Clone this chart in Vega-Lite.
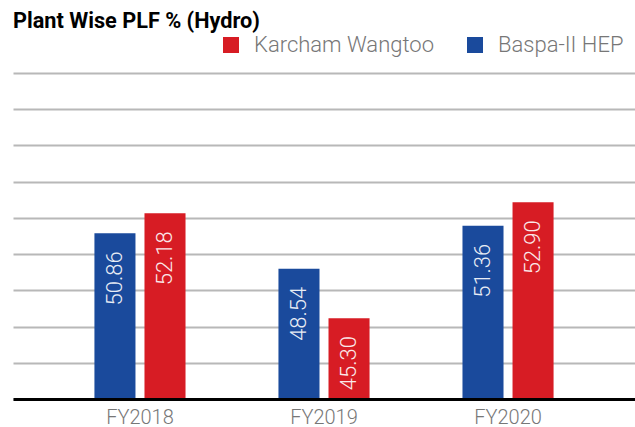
{
  "$schema": "https://vega.github.io/schema/vega-lite/v6.json",
  "autosize": "none",
  "width": 622,
  "height": 326,
  "padding": {"left": 13, "top": 73, "right": 0, "bottom": 28},
  "background": "white",
  "config": {"view": {"stroke": null}},
  "title": {
    "text": "Plant Wise PLF % (Hydro)",
    "anchor": "start",
    "font": "Roboto",
    "fontSize": 21.7,
    "fontWeight": "bold",
    "color": "#000000",
    "baseline": "alphabetic",
    "offset": -16
  },
  "data": {
    "values": [
      {"year": "FY2018", "plant": "Baspa-II HEP", "plf": 50.86},
      {"year": "FY2018", "plant": "Karcham Wangtoo", "plf": 52.18},
      {"year": "FY2019", "plant": "Baspa-II HEP", "plf": 48.54},
      {"year": "FY2019", "plant": "Karcham Wangtoo", "plf": 45.30},
      {"year": "FY2020", "plant": "Baspa-II HEP", "plf": 51.36},
      {"year": "FY2020", "plant": "Karcham Wangtoo", "plf": 52.90}
    ]
  },
  "encoding": {
    "x": {
      "field": "year",
      "type": "nominal",
      "scale": {"paddingInner": 0.505, "paddingOuter": 0.4425},
      "axis": {
        "title": null,
        "labelAngle": 0,
        "labelFont": "Roboto",
        "labelFontSize": 20,
        "labelFontWeight": 300,
        "labelColor": "#777777",
        "labelPadding": 8,
        "ticks": false,
        "domainColor": "#000000",
        "domainWidth": 3,
        "zindex": 1
      }
    },
    "xOffset": {
      "field": "plant",
      "type": "nominal",
      "scale": {"domain": ["Baspa-II HEP", "Karcham Wangtoo"], "paddingInner": 0.18, "paddingOuter": 0}
    },
    "y": {
      "field": "plf",
      "type": "quantitative",
      "scale": {"domain": [40, 61.375], "nice": false, "zero": false},
      "axis": {
        "title": null,
        "labels": false,
        "ticks": false,
        "domain": false,
        "values": [40, 42.375, 44.75, 47.125, 49.5, 51.875, 54.25, 56.625, 59, 61.375],
        "gridColor": "#b8b8b8",
        "gridWidth": 2
      }
    }
  },
  "layer": [
    {
      "mark": {"type": "bar"},
      "encoding": {
        "y2": {"datum": 40},
        "color": {
          "field": "plant",
          "type": "nominal",
          "scale": {"domain": ["Karcham Wangtoo", "Baspa-II HEP"], "range": ["#d71c24", "#1a4a9c"]},
          "legend": {
            "title": null,
            "orient": "none",
            "legendX": 207,
            "legendY": -39,
            "direction": "horizontal",
            "symbolType": "square",
            "symbolSize": 256,
            "symbolStrokeWidth": 0,
            "labelFont": "Roboto",
            "labelFontSize": 22,
            "labelFontWeight": 300,
            "labelColor": "#777777",
            "labelOffset": 12,
            "columnPadding": 30,
            "labelLimit": 300
          }
        }
      }
    },
    {
      "mark": {
        "type": "text",
        "angle": 270,
        "align": "right",
        "baseline": "middle",
        "dx": -18,
        "font": "Roboto",
        "fontSize": 22,
        "fontWeight": 300,
        "color": "#ffffff",
        "opacity": 0.9
      },
      "encoding": {
        "text": {"field": "plf", "type": "quantitative", "format": ".2f"}
      }
    }
  ]
}
